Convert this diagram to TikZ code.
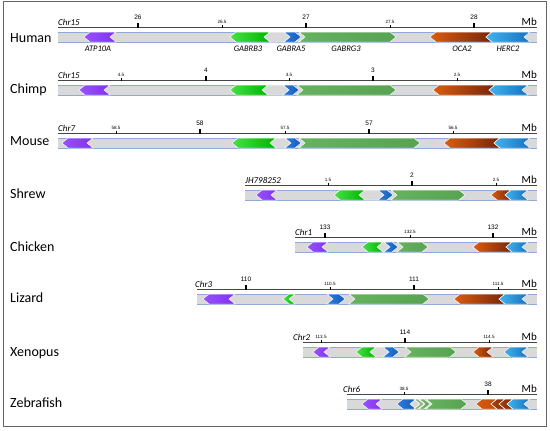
\documentclass[tikz,border=0pt]{standalone}
\usepackage{fontspec}
\setmainfont{Carlito}
\newfontfamily\tickfont{Liberation Sans}
\definecolor{barg}{RGB}{217,217,217}
\definecolor{baredge}{RGB}{143,170,218}
\definecolor{axisc}{RGB}{70,70,70}
\definecolor{frame}{RGB}{100,100,100}
\definecolor{purA}{RGB}{152,82,252}
\definecolor{purB}{RGB}{128,50,236}
\definecolor{grA}{RGB}{70,225,70}
\definecolor{grB}{RGB}{0,180,0}
\definecolor{blA}{RGB}{45,125,218}
\definecolor{blB}{RGB}{20,92,188}
\definecolor{lgA}{RGB}{102,178,96}
\definecolor{lgB}{RGB}{88,163,82}
\definecolor{orA}{RGB}{218,92,16}
\definecolor{orB}{RGB}{118,38,10}
\definecolor{cyA}{RGB}{64,180,238}
\definecolor{cyB}{RGB}{24,112,190}
\definecolor{smg}{RGB}{140,180,130}
\def\dd{6}
\tikzset{
  genebox/.style={draw=white,line width=0.5pt},
  axisline/.style={axisc,line width=0.7pt},
  majlab/.style={anchor=south,inner sep=0pt,font=\tickfont\fontsize{6.5}{7}\selectfont},
  minlab/.style={anchor=south,inner sep=0pt,font=\tickfont\fontsize{4.6}{5}\selectfont},
  chrlab/.style={anchor=base west,inner sep=0pt,font=\itshape\fontsize{9}{10}\selectfont},
  mblab/.style={anchor=base east,inner sep=0pt,font=\fontsize{11}{12}\selectfont},
  splab/.style={anchor=base west,inner sep=0pt,font=\fontsize{14}{15}\selectfont},
  genelab/.style={anchor=base,inner sep=0pt,font=\itshape\fontsize{8.5}{9}\selectfont}
}
% left-pointing gene: x1 x2 ytop colA colB
\newcommand\gL[5]{\shadedraw[genebox,left color=#4,right color=#5] (#1,#3+5) -- (#1+\dd,#3) -- (#2,#3) -- (#2-\dd,#3+5) -- (#2,#3+10) -- (#1+\dd,#3+10) -- cycle;}
% right-pointing gene
\newcommand\gR[5]{\shadedraw[genebox,left color=#4,right color=#5] (#1,#3) -- (#2-\dd,#3) -- (#2,#3+5) -- (#2-\dd,#3+10) -- (#1,#3+10) -- (#1+\dd,#3+5) -- cycle;}
% grey filler between two notches
\newcommand\gH[3]{\filldraw[genebox,fill=barg] (#1,#3+5) -- (#1+\dd,#3) -- (#2-\dd,#3) -- (#2,#3+5) -- (#2-\dd,#3+10) -- (#1+\dd,#3+10) -- cycle;}
\newcommand\barrow[2]{\fill[barg] (#1,#2) rectangle (537,#2+10);
  \draw[baredge,line width=0.6pt] (#1,#2) -- (537,#2) (#1,#2+10) -- (537,#2+10);
  \draw[axisline] (#1,#2-4.5) -- (537,#2-4.5);}
% tick: name x ytop text
\newcommand\majt[4]{\draw[line width=1.1pt] (#2,#3-4.5) -- (#2,#3-9.5); \node[majlab] (#1) at (#2,#3-12) {#4};}
\newcommand\mint[4]{\draw[line width=0.5pt] (#2,#3-4.5) -- (#2,#3-7); \node[minlab] (#1) at (#2,#3-8) {#4};}
\newcommand\chrl[4]{\node[chrlab] (#1) at (#2,#3-7) {#4};}
\newcommand\mbl[2]{\node[mblab] (#1) at (537,#2-7) {Mb};}
\begin{document}
\begin{tikzpicture}[x=1pt,y=-1pt]
\useasboundingbox (0,0) rectangle (550,431);
\fill[white] (0,0) rectangle (550,431);
\draw[frame,line width=1pt] (3.5,1.5) rectangle (546,426.5);

% ---------- Human ----------
\barrow{58}{32}
\chrl{hchr}{58}{32}{Chr15}
\mbl{hmb}{32}
\majt{h26}{138}{32}{26}
\mint{h265}{222}{32}{26.5}
\majt{h27}{306}{32}{27}
\mint{h275}{390}{32}{27.5}
\majt{h28}{474}{32}{28}
\gH{264}{290}{32}
\gL{84}{116}{32}{purA}{purB}
\gL{230}{270}{32}{grA}{grB}
\gR{284}{301}{32}{blA}{blB}
\gR{299}{396}{32}{lgA}{lgB}
\gL{430}{492}{32}{orA}{orB}
\gL{486}{530}{32}{cyA}{cyB}
\node[splab] (human) at (10,42) {Human};
\node[genelab] (atp) at (98,51) {ATP10A};
\node[genelab] (gb3) at (248,51) {GABRB3};
\node[genelab] (ga5) at (291,51) {GABRA5};
\node[genelab] (gg3) at (346,51) {GABRG3};
\node[genelab] (oca) at (462,51) {OCA2};
\node[genelab] (herc) at (508,51) {HERC2};

% ---------- Chimp ----------
\barrow{58}{85}
\chrl{cchr}{58}{85}{Chr15}
\mbl{cmb}{85}
\mint{c45}{121}{85}{4.5}
\majt{c4}{206}{85}{4}
\mint{c35}{289}{85}{3.5}
\majt{c3}{373}{85}{3}
\mint{c25}{457}{85}{2.5}
\gH{262}{289}{85}
\gL{79}{110}{85}{purA}{purB}
\gL{230}{268}{85}{grA}{grB}
\gR{283}{299}{85}{blA}{blB}
\gR{297}{396}{85}{lgA}{lgB}
\gL{433}{495}{85}{orA}{orB}
\gL{489}{528}{85}{cyA}{cyB}
\node[splab] (chimp) at (10,93) {Chimp};

% ---------- Mouse ----------
\barrow{58}{138}
\chrl{mchr}{58}{138}{Chr7}
\mbl{mmb}{138}
\mint{m585}{116}{138}{58.5}
\majt{m58}{200}{138}{58}
\mint{m575}{285}{138}{57.5}
\majt{m57}{369}{138}{57}
\mint{m565}{453}{138}{56.5}
\gH{270}{291}{138}
\gL{62}{93}{138}{purA}{purB}
\gL{232}{276}{138}{grA}{grB}
\gR{285}{301}{138}{blA}{blB}
\gR{299}{420}{138}{lgA}{lgB}
\gL{444}{500}{138}{orA}{orB}
\gL{494}{530}{138}{cyA}{cyB}
\node[splab] (mouse) at (10,145) {Mouse};

% ---------- Shrew ----------
\barrow{245}{190}
\chrl{schr}{245}{190}{JH798252}
\mbl{smb}{190}
\mint{s15}{328}{190}{1.5}
\majt{s2}{412}{190}{2}
\mint{s25}{496}{190}{2.5}
\gH{359}{384}{190}
\gL{256}{277}{190}{purA}{purB}
\gL{334}{365}{190}{grA}{grB}
\gR{378}{393}{190}{blA}{blB}
\gR{391}{465}{190}{lgA}{lgB}
\gL{491}{511}{190}{orA}{orB}
\gL{505}{528}{190}{cyA}{cyB}
\node[splab] (shrew) at (10,198) {Shrew};

% ---------- Chicken ----------
\barrow{295}{242}
\chrl{kchr}{295}{242}{Chr1}
\mbl{kmb}{242}
\majt{k133}{325}{242}{133}
\mint{k1325}{410}{242}{132.5}
\majt{k132}{493}{242}{132}
\gH{377}{390}{242}
\gL{307}{328}{242}{purA}{purB}
\gL{362}{383}{242}{grA}{grB}
\gR{384}{398}{242}{blA}{blB}
\gR{397}{428}{242}{lgA}{lgB}
\gL{473}{512}{242}{orA}{orB}
\gL{506}{528}{242}{cyA}{cyB}
\node[splab] (chicken) at (10,251) {Chicken};

% ---------- Lizard ----------
\barrow{197}{294}
\chrl{lchr}{195}{294}{Chr3}
\mbl{lmb}{294}
\majt{l110}{246}{294}{110}
\mint{l1105}{330}{294}{110.5}
\majt{l111}{414}{294}{111}
\mint{l1115}{498}{294}{111.5}
\gL{203}{235}{294}{purA}{purB}
\gL{283}{295}{294}{grA}{grB}
\gR{327}{345}{294}{blA}{blB}
\gR{349}{429}{294}{lgA}{lgB}
\gL{454}{505}{294}{orA}{orB}
\gL{499}{528}{294}{cyA}{cyB}
\node[splab] (lizard) at (10,302) {Lizard};

% ---------- Xenopus ----------
\barrow{303}{347}
\chrl{xchr}{293}{347}{Chr2}
\mbl{xmb}{347}
\mint{x1135}{321}{347}{113.5}
\majt{x114}{405}{347}{114}
\mint{x1145}{489}{347}{114.5}
\gH{370}{389}{347}
\gL{313}{330}{347}{purA}{purB}
\gL{356}{376}{347}{grA}{grB}
\gR{383}{399}{347}{blA}{blB}
\gR{405}{456}{347}{lgA}{lgB}
\gL{473}{493}{347}{orA}{orB}
\gL{504}{528}{347}{cyA}{cyB}
\node[splab] (xenopus) at (10,356) {Xenopus};

% ---------- Zebrafish ----------
\barrow{347}{399}
\chrl{zchr}{343}{399}{Chr6}
\mbl{zmb}{399}
\mint{z385}{404}{399}{38.5}
\majt{z38}{488}{399}{38}
\gH{410}{420}{399}
\gL{362}{382}{399}{purA}{purB}
\gL{397}{416}{399}{blA}{blB}
\gR{414}{424}{399}{smg}{smg}
\gR{419}{430}{399}{smg}{lgB}
\gR{426}{467}{399}{lgA}{lgB}
\gL{476}{497}{399}{orA}{orA!70!orB}
\gL{491}{505}{399}{orA!60!orB}{orB}
\gL{499}{513}{399}{orA!50!orB}{orB}
\gL{507}{530}{399}{cyA}{cyB}
\node[splab] (zebrafish) at (10,407) {Zebrafish};
\end{tikzpicture}
\end{document}
